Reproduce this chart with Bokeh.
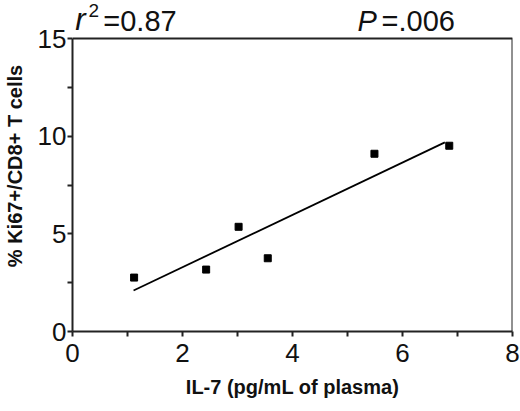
#1. LIBRERÍAS
from bokeh.plotting import figure
from bokeh.models import Label, FixedTicker, Range1d
from bokeh.embed import file_html
from bokeh.resources import INLINE

#2. DATOS
il7 = [1.12, 2.43, 3.02, 3.55, 5.49, 6.85]
ki67 = [2.76, 3.17, 5.36, 3.75, 9.10, 9.51]
fit_x = [1.11, 6.77]
fit_y = [2.10, 9.68]
x_ticks = [0, 2, 4, 6, 8]
y_ticks = [0, 5, 10, 15]
r2_text = "=0.87"
p_text = "=.006"

FONT = "Liberation Sans"
x_max = x_ticks[-1]
y_max = y_ticks[-1]

#3. FIGURA (el rango y sube por encima de 15 para dejar sitio a los textos)
p = figure(width=520, height=411, output_backend="svg", toolbar_location=None,
           x_range=Range1d(0, x_max), y_range=Range1d(0, 16.946),
           min_border_left=71, min_border_right=8, min_border_top=0, min_border_bottom=80)
p.grid.visible = False
p.background_fill_color = "white"
p.border_fill_color = "white"
p.outline_line_color = None

for ax in (p.xaxis[0], p.yaxis[0]):
    ax.axis_line_width = 2
    ax.axis_line_color = "#222222"
    ax.major_tick_line_width = 2
    ax.minor_tick_line_width = 2
    ax.major_tick_line_color = "#222222"
    ax.minor_tick_line_color = "#222222"
    ax.major_tick_in = 0
    ax.major_tick_out = 5
    ax.minor_tick_in = 0
    ax.minor_tick_out = 5
    ax.major_label_text_font = FONT
    ax.major_label_text_font_size = "26px"
    ax.major_label_text_color = "#111111"
    ax.axis_label_text_font = FONT
    ax.axis_label_text_font_size = "20px"
    ax.axis_label_text_font_style = "bold"
    ax.axis_label_text_color = "#111111"

p.xaxis.ticker = FixedTicker(ticks=x_ticks, minor_ticks=[1, 3, 5, 7])
p.yaxis.ticker = FixedTicker(ticks=y_ticks, minor_ticks=[2.5, 7.5, 12.5])
p.yaxis.bounds = (0, y_max)
p.xaxis.axis_label = "IL-7 (pg/mL of plasma)"
p.yaxis.axis_label = "% Ki67+/CD8+ T cells"
p.xaxis.major_label_standoff = 7
p.xaxis.axis_label_standoff = 11
p.yaxis.major_label_standoff = 1
p.yaxis.axis_label_standoff = 9

# marco superior y derecho
p.line([0, x_max, x_max], [y_max, y_max, 0], line_color="#222222", line_width=2)

#4. CONTENIDO
p.line(fit_x, fit_y, line_color="black", line_width=1.8)
p.scatter(il7, ki67, marker="square", size=7, color="black")

#5. TEXTOS SUPERIORES
p.add_layout(Label(x=0.05, y=15.07, text="r", text_font=FONT, text_font_size="31px",
                   text_font_style="italic", text_color="#111111"))
p.add_layout(Label(x=0.29, y=16.10, text="2", text_font=FONT, text_font_size="19px",
                   text_color="#111111"))
p.add_layout(Label(x=0.56, y=15.07, text=r2_text, text_font=FONT, text_font_size="29px",
                   text_color="#111111"))
p.add_layout(Label(x=5.18, y=15.07, text="P", text_font=FONT, text_font_size="29px",
                   text_font_style="italic", text_color="#111111"))
p.add_layout(Label(x=5.62, y=15.07, text=p_text, text_font=FONT, text_font_size="29px",
                   text_color="#111111"))

#6. SALIDA
open("out.html", "w").write(file_html(p, INLINE))
